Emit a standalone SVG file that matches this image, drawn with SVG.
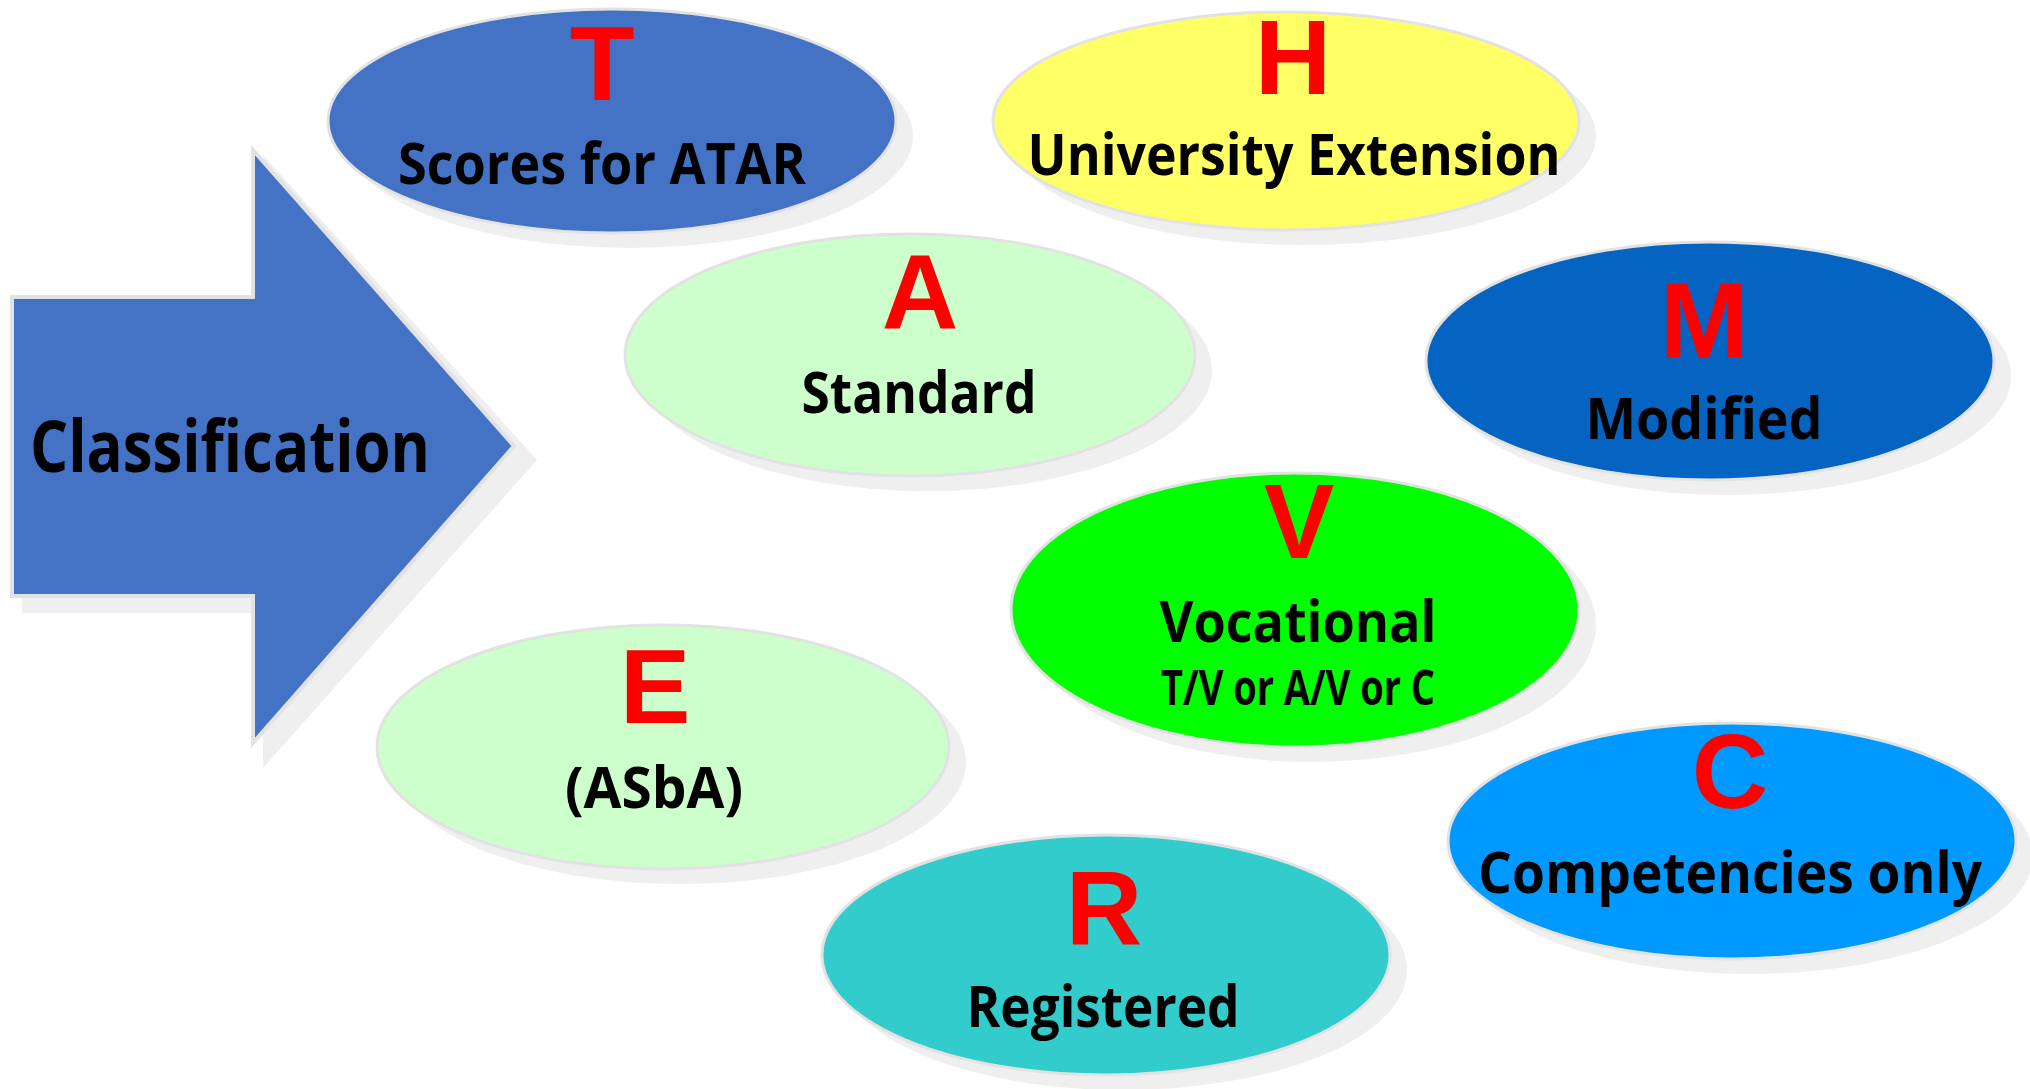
<svg xmlns="http://www.w3.org/2000/svg" width="2030" height="1089" viewBox="0 0 2030 1089">
<style>
.sh{fill:#efefef}
.el{stroke:#e2e2e2;stroke-width:3}
.ltr{font-family:"Liberation Sans","Open Sans","Noto Sans",sans-serif;font-weight:700;font-size:106px;fill:#ff0000;text-anchor:middle}
.lbl{font-family:"Open Sans","Noto Sans","Liberation Sans",sans-serif;font-weight:700;font-size:58px;fill:#000000;text-anchor:middle}
.sub{font-size:49px}
</style>
<rect width="2030" height="1089" fill="#ffffff"/>
<g id="classification">
<polygon class="sh" points="22,310 263,310 263,155 537,460 263,768 263,613 22,613"/>
<polygon points="12,297 253,297 253,150 514,446 253,743 253,596 12,596" fill="#4472c4" stroke="#e2e2e2" stroke-width="4" stroke-linejoin="miter"/>
<text x="30" y="472" font-family="'Open Sans','Noto Sans','Liberation Sans',sans-serif" font-weight="700" font-size="71" fill="#000" textLength="400" lengthAdjust="spacingAndGlyphs">Classification</text>
</g>
<g id="node-T">
<ellipse class="sh" cx="629" cy="136" rx="284" ry="112"/>
<ellipse class="el" cx="612" cy="121" rx="284" ry="112" fill="#4472c4"/>
<text class="ltr" x="602" y="100">T</text>
<text class="lbl" x="602" y="184" textLength="408" lengthAdjust="spacingAndGlyphs">Scores for ATAR</text>
</g>
<g id="node-H">
<ellipse class="sh" cx="1303" cy="136" rx="293" ry="109"/>
<ellipse class="el" cx="1286" cy="121" rx="293" ry="109" fill="#ffff66"/>
<text class="ltr" x="1293" y="94" font-size="102">H</text>
<text class="lbl" x="1294" y="175" textLength="533" lengthAdjust="spacingAndGlyphs">University Extension</text>
</g>
<g id="node-A">
<ellipse class="sh" cx="927" cy="370" rx="285" ry="121"/>
<ellipse class="el" cx="910" cy="355" rx="285" ry="121" fill="#ccffcc"/>
<text class="ltr" x="920" y="329">A</text>
<text class="lbl" x="919" y="413" textLength="235" lengthAdjust="spacingAndGlyphs">Standard</text>
</g>
<g id="node-M">
<ellipse class="sh" cx="1727" cy="376" rx="284" ry="119"/>
<ellipse class="el" cx="1710" cy="361" rx="284" ry="119" fill="#0563c1"/>
<text class="ltr" x="1704" y="357">M</text>
<text class="lbl" x="1704" y="439" textLength="237" lengthAdjust="spacingAndGlyphs">Modified</text>
</g>
<g id="node-V">
<ellipse class="sh" cx="1312" cy="625" rx="284" ry="137"/>
<ellipse class="el" cx="1295" cy="610" rx="284" ry="137" fill="#00ff00"/>
<text class="ltr" x="1299" y="558">V</text>
<text class="lbl" x="1298" y="642" textLength="277" lengthAdjust="spacingAndGlyphs">Vocational</text>
<text class="lbl sub" x="1298" y="705" textLength="274" lengthAdjust="spacingAndGlyphs">T/V or A/V or C</text>
</g>
<g id="node-E">
<ellipse class="sh" cx="680" cy="762" rx="286" ry="122"/>
<ellipse class="el" cx="663" cy="747" rx="286" ry="122" fill="#ccffcc"/>
<text class="ltr" x="655" y="723">E</text>
<text class="lbl" x="654" y="808" textLength="178" lengthAdjust="spacingAndGlyphs">(ASbA)</text>
</g>
<g id="node-C">
<ellipse class="sh" cx="1749" cy="856" rx="284" ry="118"/>
<ellipse class="el" cx="1732" cy="841" rx="284" ry="118" fill="#0099ff"/>
<text class="ltr" x="1730" y="808">C</text>
<text class="lbl" x="1730" y="893" textLength="504" lengthAdjust="spacingAndGlyphs">Competencies only</text>
</g>
<g id="node-R">
<ellipse class="sh" cx="1123" cy="970" rx="284" ry="120"/>
<ellipse class="el" cx="1106" cy="955" rx="284" ry="120" fill="#33cccc"/>
<text class="ltr" x="1104" y="945">R</text>
<text class="lbl" x="1103" y="1027" textLength="273" lengthAdjust="spacingAndGlyphs">Registered</text>
</g>
<g id="connectors"/>
</svg>
